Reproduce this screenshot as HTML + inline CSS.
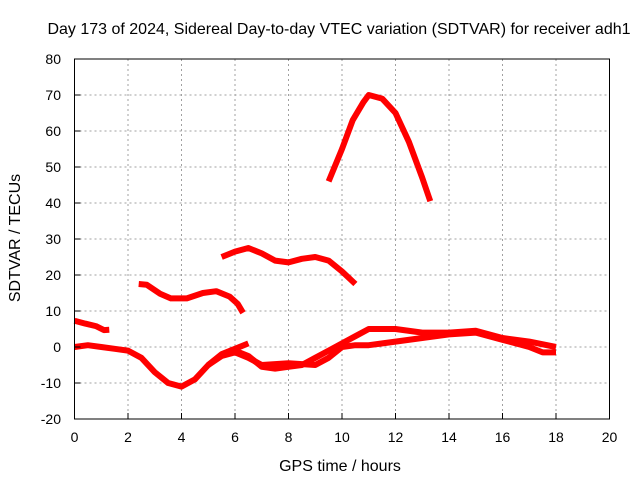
<!DOCTYPE html>
<html><head><meta charset="utf-8"><style>
body{margin:0;background:#fff;}
svg{display:block;font-family:"Liberation Sans",sans-serif;}
</style></head><body>
<svg id="chart" width="640" height="480">
<rect width="640" height="480" fill="#fff"/>
<g id="grid"></g><g id="series"></g><g id="axes"></g>
<text x="339" y="34" font-size="16" text-anchor="middle">Day 173 of 2024, Sidereal Day-to-day VTEC variation (SDTVAR) for receiver adh1</text>
<text x="340" y="471" font-size="16" text-anchor="middle">GPS time / hours</text>
<text x="20" y="238" font-size="16" text-anchor="middle" transform="rotate(-90 20 238)">SDTVAR / TECUs</text>
</svg>
<script>
const xTicks=[0,2,4,6,8,10,12,14,16,18,20];
const yTicks=[-20,-10,0,10,20,30,40,50,60,70,80];
const s1x=[0,0.4,0.8,1.1,1.3];
const s1y=[7.3,6.5,5.8,4.7,4.8];
const s2x=[2.4,2.7,3.2,3.6,4.2,4.8,5.3,5.8,6.1,6.3];
const s2y=[17.5,17.3,14.8,13.5,13.5,15,15.5,14,12,9.5];
const s3x=[5.5,6,6.5,7,7.5,8,8.5,9,9.5,10,10.5];
const s3y=[25,26.5,27.5,26,24,23.5,24.5,25,24,21,17.5];
const s4x=[9.5,10,10.4,10.8,11,11.5,12,12.5,13,13.3];
const s4y=[46,55,63,68,70,69,65,57,47,40.5];
const s5x=[0,0.5,1,1.5,2,2.5,3,3.5,4,4.5,5,5.5,6,6.5];
const s5y=[0,0.5,0,-0.5,-1,-3,-7,-10,-11,-9,-5,-2,-0.5,1];
const s6x=[6,6.5,7,7.5,8,8.5,9,9.5,10,10.5,11,12,13,14,15,16,17,18];
const s6y=[-1,-2.5,-5.5,-6,-5.5,-5,-3,-1,1,3,5,5,4,4,4.5,2.5,1.5,0];
const s7x=[5,5.5,6,6.5,7,8,9,9.5,10,10.5,11,12,13,14,15,16,17,17.5,18];
const s7y=[-5,-2.5,-1.5,-3,-5,-4.5,-5,-3,0,0.5,0.5,1.5,2.5,3.5,4,2,0,-1.5,-1.5];
const X=v=>74.5+v*26.75, Y=v=>347-v*3.6;
const NS="http://www.w3.org/2000/svg";
const g=document.getElementById('grid'),ax=document.getElementById('axes'),se=document.getElementById('series');
function mk(p,t,a){const e=document.createElementNS(NS,t);for(const k in a)e.setAttribute(k,a[k]);p.appendChild(e);return e;}
xTicks.forEach(v=>{
 if(v>0&&v<20){const l=mk(g,'line',{x1:X(v),x2:X(v),y1:59,y2:419,stroke:'#a0a0a0','stroke-dasharray':'2,3'});
 
 }
 const t=mk(ax,'text',{x:X(v),y:442,'font-size':14,'text-anchor':'middle'});t.textContent=v;
 
 
 mk(ax,'line',{x1:X(v),x2:X(v),y1:419,y2:413,stroke:'#000'});
});
yTicks.forEach(v=>{
 if(v>-20&&v<80){const l=mk(g,'line',{x1:74.5,x2:609.5,y1:Y(v),y2:Y(v),stroke:'#a0a0a0','stroke-dasharray':'2,3'});
 
 }
 const t=mk(ax,'text',{x:61,y:Y(v)+5,'font-size':14,'text-anchor':'end'});t.textContent=v;
 
 
 mk(ax,'line',{x1:74.5,x2:80.5,y1:Y(v),y2:Y(v),stroke:'#000'});
});
const fr=mk(ax,'rect',{x:74.5,y:59,width:535,height:360,fill:'none',stroke:'#000'});


[[s1x,s1y],[s2x,s2y],[s3x,s3y],[s4x,s4y],[s5x,s5y],[s6x,s6y],[s7x,s7y]].forEach((s,i)=>{
 const pts=s[0].map((x,j)=>X(x)+','+Y(s[1][j])).join(' ');
 const p=mk(se,'polyline',{points:pts,fill:'none',stroke:'#ff0000','stroke-width':6,'stroke-linejoin':'round'});
 
 
});
</script>
</body></html>
